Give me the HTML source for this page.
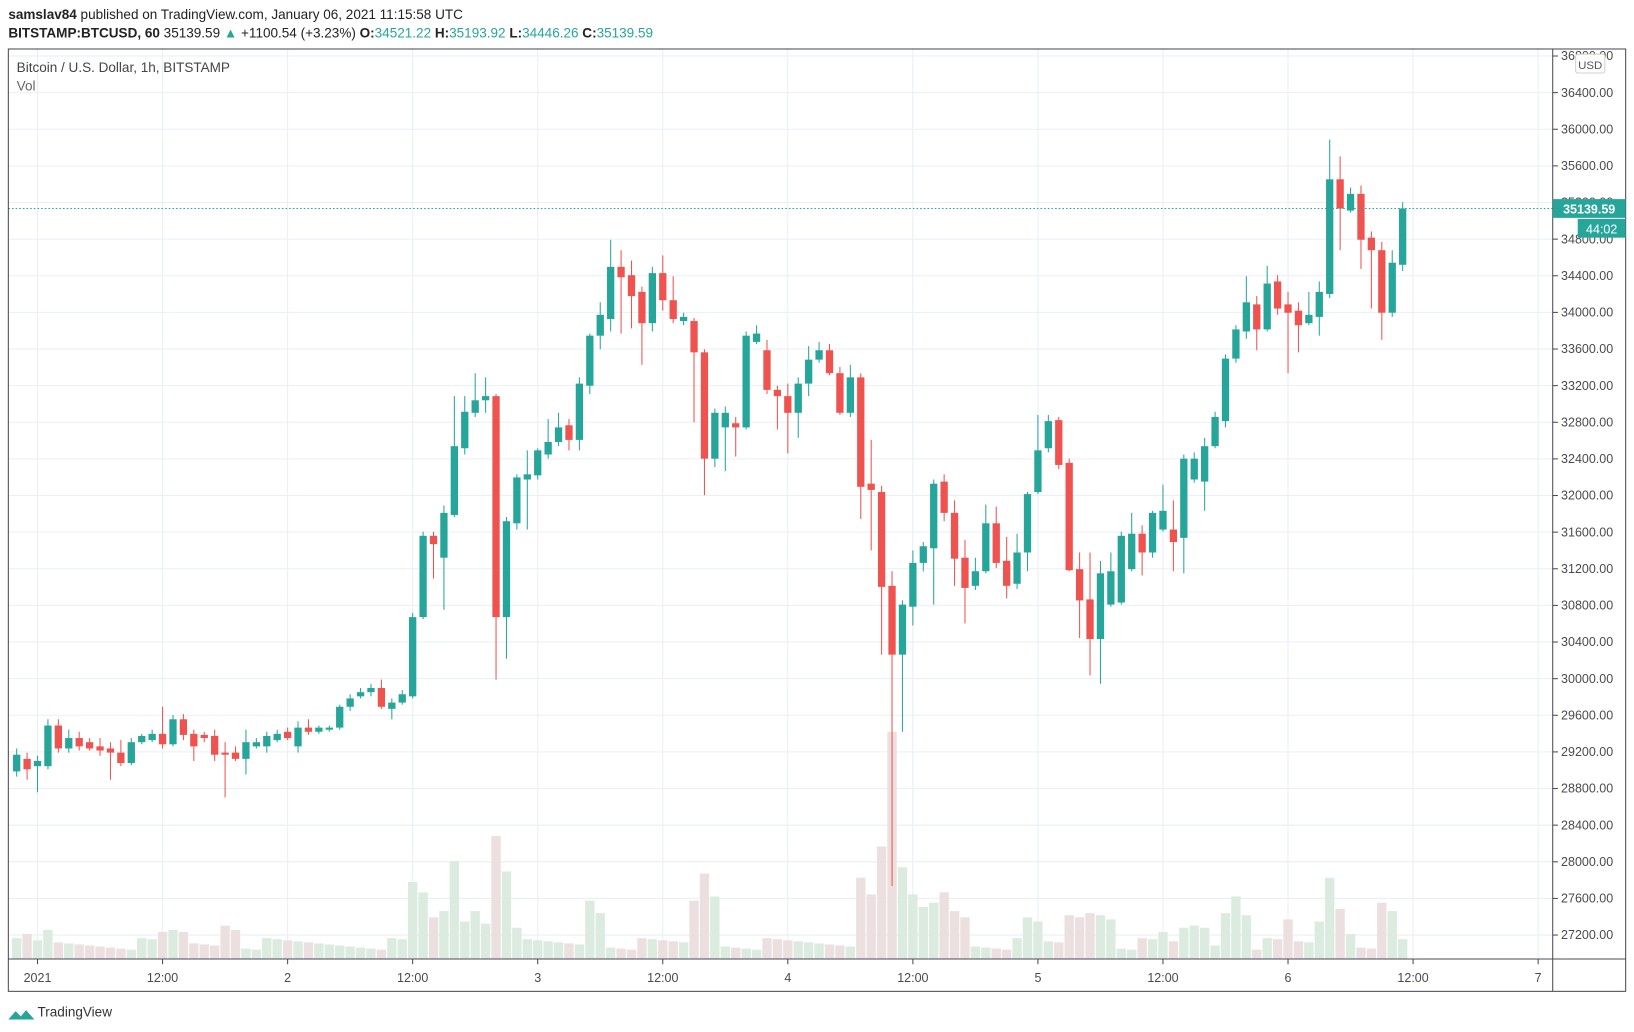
<!DOCTYPE html>
<html><head><meta charset="utf-8"><style>
html,body{margin:0;padding:0;background:#fff;}
svg{display:block;}
text{font-family:"Liberation Sans",sans-serif;}
</style></head><body>
<svg id="s" width="1634" height="1032" viewBox="0 0 1568 990" preserveAspectRatio="none" xmlns="http://www.w3.org/2000/svg">
<rect width="1568" height="990" fill="#fff"/>
<g id="grid"></g>
<g id="vol"></g>
<g id="candles"></g>
<line x1="8" y1="200" x2="1490" y2="200" stroke="#26a69a" stroke-dasharray="1.5,2" stroke-width="1"/>
<rect x="8" y="47" width="1552" height="904" fill="none" stroke="#4a4a55" stroke-width="1"/>
<line x1="1490" y1="47" x2="1490" y2="951" stroke="#4a4a55"/>
<line x1="8" y1="920" x2="1560" y2="920" stroke="#4a4a55"/>
<g id="axis" font-size="12" fill="#4a4a4a"></g>
<rect x="1512" y="52" width="28" height="18" rx="2" fill="#fff" stroke="#d0d0d0"/>
<text x="1526" y="66" font-size="11" fill="#555" text-anchor="middle">USD</text>
<rect x="1490" y="191" width="70" height="18" fill="#26a69a"/>
<text x="1525" y="205" font-size="12" fill="#fff" font-weight="bold" text-anchor="middle">35139.59</text>
<rect x="1514" y="210" width="46" height="18" fill="#26a69a"/>
<text x="1537" y="224" font-size="12" fill="#fff" text-anchor="middle">44:02</text>
<text x="8" y="18" font-size="13" fill="#222"><tspan font-weight="bold">samslav84</tspan> published on TradingView.com, January 06, 2021 11:15:58 UTC</text>
<text x="8" y="36" font-size="13" fill="#222"><tspan font-weight="bold">BITSTAMP:BTCUSD, 60</tspan>  35139.59 <tspan fill="#26a69a">▲</tspan> +1100.54 (+3.23%) <tspan font-weight="bold">O:</tspan><tspan fill="#26a69a">34521.22</tspan> <tspan font-weight="bold">H:</tspan><tspan fill="#26a69a">35193.92</tspan> <tspan font-weight="bold">L:</tspan><tspan fill="#26a69a">34446.26</tspan> <tspan font-weight="bold">C:</tspan><tspan fill="#26a69a">35139.59</tspan></text>
<text x="16" y="69" font-size="13" fill="#444">Bitcoin / U.S. Dollar, 1h, BITSTAMP</text>
<text x="16" y="87" font-size="13" fill="#666">Vol</text>
<path d="M8 978 l7 -8 l5 5 l5 -6 l8 9 z" fill="#26a69a"/>
<text x="36" y="975" font-size="13" fill="#333">TradingView</text>
</svg>
<script>
var NS="http://www.w3.org/2000/svg";
function el(p,t,a){var e=document.createElementNS(NS,t);for(var k in a)e.setAttribute(k,a[k]);document.getElementById(p).appendChild(e);return e;}
// grid
for(var k=0;k<=24;k++){var p=36800-400*k;var y=124+(36000-p)*0.08784;
 if(y>47&&y<920){el("grid","line",{x1:8,x2:1490,y1:y,y2:y,stroke:"#e9eff5"});
 el("axis","line",{x1:1490,x2:1495,y1:y,y2:y,stroke:"#4a4a55"});
 var t=el("axis","text",{x:1498,y:y+4});t.textContent=p.toFixed(2);}}
var tl=["2021","12:00","2","12:00","3","12:00","4","12:00","5","12:00","6","12:00","7"];
for(var k=0;k<13;k++){var x=36+120*k;el("grid","line",{x1:x,x2:x,y1:47,y2:920,stroke:"#e9eff5"});
 el("axis","line",{x1:x,x2:x,y1:920,y2:925,stroke:"#4a4a55"});
 var t=el("axis","text",{x:x,y:942,"text-anchor":"middle"});t.textContent=tl[k];}
// candles: [open, close, high, low] in y pixels
var C=[[740,724,718,745],[728,738,722,748],[735,730,725,760],[735,696,690,738],[696,718,690,722],[718,708,700,722],[708,716,702,720],[712,718,708,720],[716,720,708,725],[718,722,712,748],
[722,732,710,735],[732,712,708,734],[712,706,704,714],[710,704,700,712],[704,714,678,718],[714,690,686,716],[690,705,685,710],[704,716,700,730],[705,708,702,712],[706,724,700,730],
[722,724,712,765],[722,728,716,730],[728,712,700,743],[716,712,708,718],[716,706,702,722],[710,704,700,712],[702,708,698,710],[716,698,692,722],[698,702,690,705],[702,698,696,704],
[700,698,696,702],[698,678,676,700],[678,670,666,682],[668,664,660,670],[664,660,656,668],[660,678,652,680],[680,674,670,690],[674,666,662,676],[668,592,588,670],[592,514,510,594],
[514,522,510,555],[535,492,485,585],[494,428,380,496],[430,395,380,436],[396,384,358,400],[384,380,362,396],[380,592,378,652],[592,500,496,632],[502,458,455,508],[460,455,432,508],
[456,432,430,460],[436,424,402,440],[424,410,396,428],[408,422,402,432],[422,368,362,432],[370,322,320,378],[322,302,290,335],[306,256,230,318],[256,266,240,320],[264,284,250,315],
[280,310,275,350],[310,262,256,318],[262,288,245,298],[288,306,265,310],[308,304,300,312],[308,338,305,405],[338,440,335,475],[440,396,392,448],[410,396,390,452],[406,410,400,438],
[410,322,318,412],[328,320,312,330],[336,374,326,378],[374,380,370,412],[380,396,368,435],[396,368,362,420],[368,345,332,380],[345,336,328,348],[336,358,330,360],[358,396,352,398],
[396,362,350,400],[362,467,358,498],[464,470,422,528],[472,563,466,628],[562,628,548,850],[628,580,576,702],[582,540,528,600],[540,524,520,548],[526,464,460,580],[462,492,455,500],
[492,536,480,562],[535,564,518,598],[562,548,535,566],[548,502,484,550],[502,540,486,545],[538,562,515,574],[560,530,512,565],[530,474,472,548],[472,432,398,474],[430,404,398,434],
[403,446,400,450],[444,547,440,548],[546,576,530,612],[575,613,530,648],[613,550,538,656],[580,548,530,582],[578,514,510,580],[546,512,492,548],[512,530,504,552],[530,492,490,535],
[508,490,465,510],[508,520,480,548],[516,440,436,550],[460,440,434,463],[462,428,420,490],[428,400,395,430],[404,344,340,410],[344,316,312,348],[318,290,265,325],[292,316,284,336],
[316,272,255,318],[270,296,264,302],[292,300,280,358],[298,312,290,338],[310,302,280,312],[304,280,270,322],[282,172,134,286],[172,200,150,240],[202,186,180,204],[186,230,178,258],
[228,240,222,296],[240,300,232,326],[300,252,240,304],[254,200,194,260]];
var V={38:846,39:856,40:880,41:874,42:826,43:884,44:874,45:886,46:802,47:836,48:890,55:864,56:876,65:864,66:838,67:860,81:842,82:858,83:812,84:702,85:832,86:858,87:870,88:866,89:856,90:874,91:880,
97:880,98:884,101:878,102:880,103:876,104:878,105:882,117:860,118:878,116:876,126:842,127:872,131:866,132:874,128:896,125:884,15:892,16:894,20:888,21:892,0:900,1:896,3:892,14:894,112:890,113:888,114:890,110:894,122:882};
for(var i=0;i<C.length;i++){var c=C[i],x=16+10*i,up=c[1]<c[0];
 var vt=V[i]!==undefined?V[i]:(900+((i*37)%12));
 el("vol","rect",{x:x-4.5,y:vt,width:9,height:920-vt,fill:up?"#dcebdf":"#ecdfe0"});
 var col=up?"#26a69a":"#ef5350";
 el("candles","line",{x1:x,x2:x,y1:c[2],y2:c[3],stroke:col,"stroke-width":1});
 var t=Math.min(c[0],c[1]),h=Math.max(2,Math.abs(c[0]-c[1]));
 el("candles","rect",{x:x-3.5,y:t,width:7,height:h,fill:col});}
</script>
</body></html>
